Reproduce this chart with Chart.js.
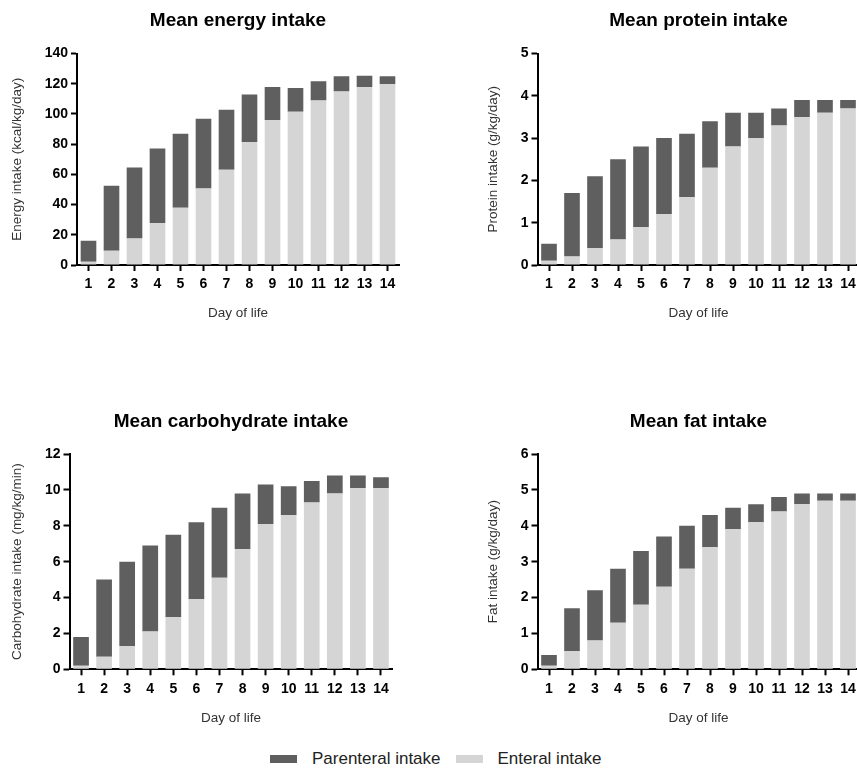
<!DOCTYPE html>
<html>
<head>
<meta charset="utf-8">
<script src="https://cdn.jsdelivr.net/npm/chart.js@4.4.1/dist/chart.umd.min.js"></script>
<style>
	body { margin: 0; width: 857px; height: 769px; overflow: hidden; background: #fff; position: relative; font-family: "Liberation Sans", Arial, sans-serif; }
	.panel { position: absolute; width: 440px; height: 330px; }
	#legend { position: absolute; left: 270px; top: 749px; display: flex; align-items: center; font-size: 17px; color: #222; }
	#legend .sw { display: inline-block; width: 27px; height: 8px; margin-right: 15px; }
	#legend .item { display: flex; align-items: center; margin-right: 15px; }
</style>
</head>
<body>
<div class="panel" style="left:0;top:0"><canvas id="energy"></canvas></div>
<div class="panel" style="left:430px;top:0"><canvas id="protein"></canvas></div>
<div class="panel" style="left:0;top:400px"><canvas id="carb"></canvas></div>
<div class="panel" style="left:430px;top:400px"><canvas id="fat"></canvas></div>
<div id="legend"></div>
<script>
var days = ['1', '2', '3', '4', '5', '6', '7', '8', '9', '10', '11', '12', '13', '14'];
var seriesNames = ['Parenteral intake', 'Enteral intake'];
var seriesColors = ['#5f5f5f', '#d5d5d5'];

var energyEnteral = [2.2, 9.4, 17.5, 27.8, 37.9, 50.6, 63.1, 81.5, 96.0, 101.4, 108.9, 114.8, 117.9, 119.6];
var energyParenteral = [13.8, 43.0, 47.1, 49.3, 48.9, 46.2, 39.7, 31.3, 21.9, 15.8, 12.7, 10.1, 7.4, 5.3];

var proteinEnteral = [0.1, 0.2, 0.4, 0.6, 0.9, 1.2, 1.6, 2.3, 2.8, 3.0, 3.3, 3.5, 3.6, 3.7];
var proteinParenteral = [0.4, 1.5, 1.7, 1.9, 1.9, 1.8, 1.5, 1.1, 0.8, 0.6, 0.4, 0.4, 0.3, 0.2];

var carbEnteral = [0.2, 0.7, 1.3, 2.1, 2.9, 3.9, 5.1, 6.7, 8.1, 8.6, 9.3, 9.8, 10.1, 10.1];
var carbParenteral = [1.6, 4.3, 4.7, 4.8, 4.6, 4.3, 3.9, 3.1, 2.2, 1.6, 1.2, 1.0, 0.7, 0.6];

var fatEnteral = [0.1, 0.5, 0.8, 1.3, 1.8, 2.3, 2.8, 3.4, 3.9, 4.1, 4.4, 4.6, 4.7, 4.7];
var fatParenteral = [0.3, 1.2, 1.4, 1.5, 1.5, 1.4, 1.2, 0.9, 0.6, 0.5, 0.4, 0.3, 0.2, 0.2];

var FONT = "'Liberation Sans', Arial, sans-serif";
var W = 440, H = 330;

function panel(id, title, yTitle, yMax, yStep, enteral, parenteral, g) {
	var ctx = document.getElementById(id).getContext('2d');
	return new Chart(ctx, {
		type: 'bar',
		data: {
			labels: days,
			datasets: [
				{ label: seriesNames[1], data: enteral, backgroundColor: seriesColors[1] },
				{ label: seriesNames[0], data: parenteral, backgroundColor: seriesColors[0] }
			]
		},
		options: {
			responsive: true,
			maintainAspectRatio: false,
			animation: false,
			datasets: { bar: { barPercentage: 0.68, categoryPercentage: 1, borderWidth: 0 } },
			layout: { padding: { left: 0, right: W - g.aR, top: 0, bottom: 0 } },
			plugins: {
				legend: { display: false },
				tooltip: { enabled: false },
				title: {
					display: true,
					text: title,
					fullSize: false,
					color: '#000',
					font: { family: FONT, size: 19, weight: 'bold' },
					padding: { top: g.titleY - 11.4, bottom: g.aT - g.titleY - 11.4 }
				}
			},
			scales: {
				x: {
					stacked: true,
					grid: { display: true, offset: false, drawOnChartArea: false, tickLength: 6, tickWidth: 2, tickColor: '#000', color: '#000' },
					border: { display: true, color: '#000', width: 2 },
					ticks: { color: '#000', padding: 5, maxRotation: 0, autoSkip: false, font: { family: FONT, size: 14, weight: 'bold' } },
					title: {
						display: true, text: 'Day of life', color: '#333',
						font: { family: FONT, size: 13.5 },
						padding: { top: 0, bottom: H - g.dayY - 8.1 }
					},
					afterFit: function(s) { s.height = H - g.aB; }
				},
				y: {
					stacked: true,
					min: 0,
					max: yMax,
					grid: { display: true, drawOnChartArea: false, tickLength: 6, tickWidth: 2, tickColor: '#000', color: '#000' },
					border: { display: true, color: '#000', width: 2 },
					ticks: { stepSize: yStep, color: '#000', padding: 3, font: { family: FONT, size: 14, weight: 'bold' } },
					title: {
						display: true, text: yTitle, color: '#333',
						font: { family: FONT, size: 13.5 },
						padding: { top: g.yTitleX - 8.1, bottom: 0 }
					},
					afterFit: function(s) { s.width = g.aL; }
				}
			}
		}
	});
}

panel('energy', 'Mean energy intake', 'Energy intake (kcal/kg/day)', 140, 20, energyEnteral, energyParenteral,
	{ aL: 77, aR: 399, aT: 53.5, aB: 265, titleY: 20.5, yTitleX: 17.5, dayY: 313 });
panel('protein', 'Mean protein intake', 'Protein intake (g/kg/day)', 5, 1, proteinEnteral, proteinParenteral,
	{ aL: 107.5, aR: 429.5, aT: 53.5, aB: 265, titleY: 20.5, yTitleX: 63.5, dayY: 313 });
panel('carb', 'Mean carbohydrate intake', 'Carbohydrate intake (mg/kg/min)', 12, 2, carbEnteral, carbParenteral,
	{ aL: 69.5, aR: 392.5, aT: 54, aB: 269.3, titleY: 21.5, yTitleX: 17.5, dayY: 318 });
panel('fat', 'Mean fat intake', 'Fat intake (g/kg/day)', 6, 1, fatEnteral, fatParenteral,
	{ aL: 107.5, aR: 429.5, aT: 54, aB: 269.3, titleY: 21.5, yTitleX: 63.5, dayY: 318 });

// shared legend, parenteral first
var legend = document.getElementById('legend');
for (var i = 0; i < seriesNames.length; i++) {
	var item = document.createElement('span');
	item.className = 'item';
	var sw = document.createElement('span');
	sw.className = 'sw';
	sw.style.background = seriesColors[i];
	item.appendChild(sw);
	item.appendChild(document.createTextNode(seriesNames[i]));
	legend.appendChild(item);
}
</script>
</body>
</html>
